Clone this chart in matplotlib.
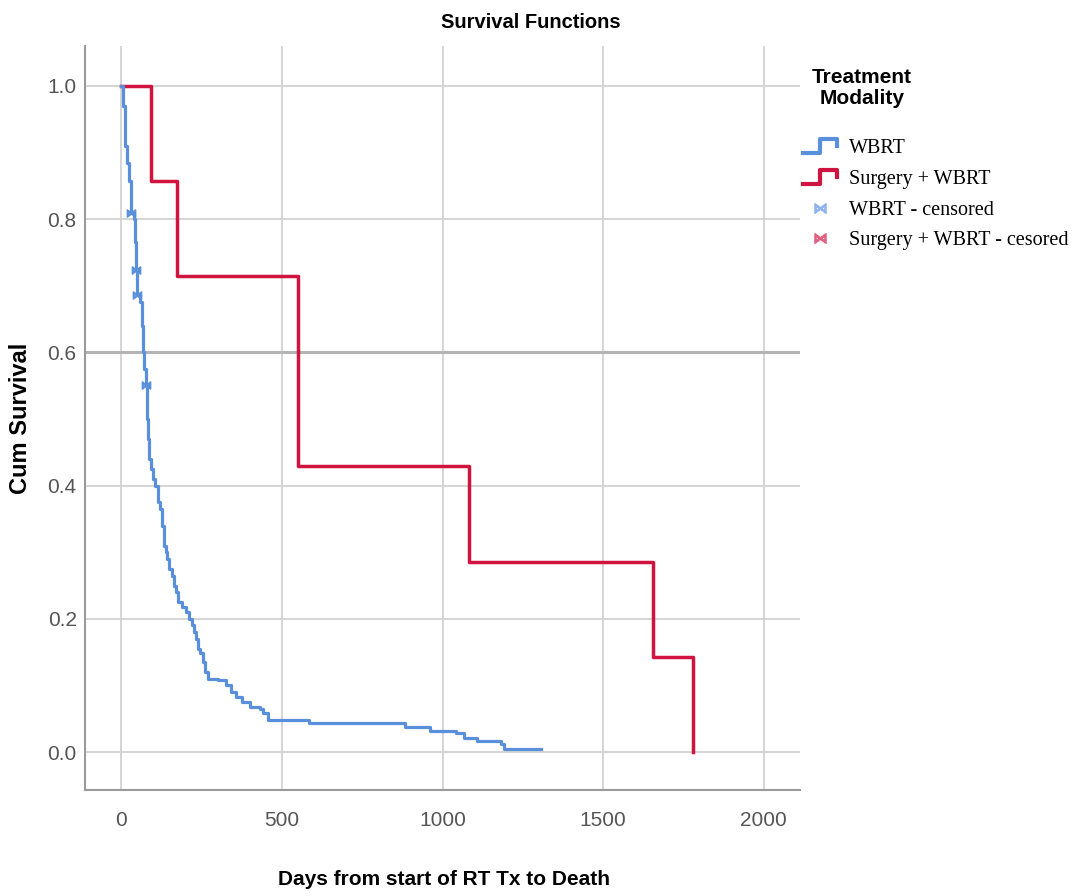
import matplotlib
matplotlib.use("Agg")
import matplotlib.pyplot as plt
from matplotlib.lines import Line2D
from matplotlib.legend_handler import HandlerBase

# Kaplan-Meier steps (days, cumulative survival after the step)
wbrt_days = [0, 5, 10, 13, 18, 25, 30, 38, 42, 47, 49, 52, 58, 63, 67, 72, 78, 80,
             83, 86, 92, 100, 106, 114, 122, 128, 132, 138, 142, 150, 159, 165, 170,
             176, 190, 200, 210, 220, 226, 232, 238, 245, 255, 262, 270, 300, 327,
             340, 358, 375, 400, 431, 440, 457, 583, 884, 962, 1041, 1067, 1108,
             1181, 1192, 1306]
wbrt_surv = [1.0, 0.97, 0.935, 0.91, 0.885, 0.858, 0.81, 0.80, 0.766, 0.723, 0.686,
             0.686, 0.676, 0.64, 0.60, 0.575, 0.551, 0.50, 0.47, 0.44, 0.425, 0.41,
             0.40, 0.375, 0.365, 0.34, 0.31, 0.30, 0.29, 0.275, 0.265, 0.25, 0.24,
             0.225, 0.218, 0.21, 0.20, 0.19, 0.18, 0.17, 0.155, 0.148, 0.135, 0.12,
             0.11, 0.108, 0.10, 0.09, 0.083, 0.075, 0.068, 0.065, 0.058, 0.048, 0.043,
             0.038, 0.032, 0.028, 0.021, 0.016, 0.012, 0.005, 0.005]
wbrt_cens_days = [30, 47, 49, 78]
wbrt_cens_surv = [0.81, 0.723, 0.686, 0.551]

surg_days = [0, 91, 172, 550, 1081, 1656, 1781, 1781]
surg_surv = [1.0, 0.857, 0.714, 0.429, 0.286, 0.143, 0.143, 0.0]

x_ticks = [0, 500, 1000, 1500, 2000]
y_ticks = [0.0, 0.2, 0.4, 0.6, 0.8, 1.0]

blue = '#5a8fdc'
red = '#d1143f'
sans = ['Liberation Sans', 'DejaVu Sans']
serif = ['Liberation Serif', 'DejaVu Serif']


class StepHandler(HandlerBase):
    # little step icon like the SPSS legend
    def create_artists(self, legend, orig_handle, xdescent, ydescent, width, height, fontsize, trans):
        xs = [0, width * 0.5, width * 0.5, width, width]
        ys = [0, 0, height, height, height * 0.5]
        ln = Line2D(xs, ys, color=orig_handle.get_color(), lw=orig_handle.get_linewidth(),
                    transform=trans)
        return [ln]


fig = plt.figure(figsize=(10.77, 8.96), dpi=100)
ax = fig.add_axes([85 / 1077, 106 / 896, 715 / 1077, 744 / 896])

ax.step(surg_days, surg_surv, where='post', color=red, lw=2.5, zorder=3)
ax.step(wbrt_days, wbrt_surv, where='post', color=blue, lw=2.3, zorder=4)
ax.plot(wbrt_cens_days, wbrt_cens_surv, ls='none', marker='$\\bowtie$', ms=6,
        color=blue, zorder=5)

ax.set_xlim(-113, 2113)
ax.set_ylim(-0.057, 1.06)
ax.set_xticks(x_ticks)
ax.set_yticks(y_ticks)
ax.set_yticklabels([f'{v:.1f}' for v in y_ticks])
ax.grid(True, color='#d2d2d2', lw=1.3)
ax.axhline(0.6, color='#b4b4b4', lw=2.2, zorder=1)
ax.set_axisbelow(True)
for s in ['top', 'right']:
    ax.spines[s].set_visible(False)
for s in ['left', 'bottom']:
    ax.spines[s].set_color('#9a9a9a')
    ax.spines[s].set_linewidth(1.5)
ax.tick_params(length=0, labelsize=15, labelcolor='#555555')
ax.tick_params(axis='x', pad=15)
ax.tick_params(axis='y', pad=6)
for lab in ax.get_xticklabels() + ax.get_yticklabels():
    lab.set_family(sans)

fig.text(531 / 1077, 1 - 23 / 896, 'Survival Functions', family=sans, fontweight='bold',
         fontsize=14.5, ha='center', va='center')
ax.set_ylabel('Cum Survival', family=sans, fontweight='bold', fontsize=17)
ax.yaxis.set_label_coords(-64 / 715, 0.5)
ax.yaxis.label.set_va('center')
ax.set_xlabel('Days from start of RT Tx to Death', family=sans, fontweight='bold',
              fontsize=15)
ax.xaxis.set_label_coords(359 / 715, -89 / 744)
ax.xaxis.label.set_va('center')

fig.text(862 / 1077, 1 - 88 / 896, 'Treatment\nModality', family=sans, fontweight='bold',
         fontsize=15, ha='center', va='center', linespacing=1.15)

h_wbrt = Line2D([], [], color=blue, lw=3)
h_surg = Line2D([], [], color=red, lw=3)
h_wc = Line2D([], [], ls='none', marker='$\\bowtie$', ms=8, color='#8fb4ec')
h_sc = Line2D([], [], ls='none', marker='$\\bowtie$', ms=8, color='#e0607e')
leg = ax.legend([h_wbrt, h_surg, h_wc, h_sc],
                ['WBRT', 'Surgery + WBRT', 'WBRT - censored', 'Surgery + WBRT - cesored'],
                handler_map={h_wbrt: StepHandler(), h_surg: StepHandler()},
                loc='upper left', bbox_to_anchor=(803 / 1077, 1 - 139 / 896),
                bbox_transform=fig.transFigure, frameon=False,
                prop={'family': serif, 'size': 14.5}, handlelength=1.7, handletextpad=0.6,
                labelspacing=0.58, borderpad=0, borderaxespad=0)

fig.savefig('out.png', dpi=100)
